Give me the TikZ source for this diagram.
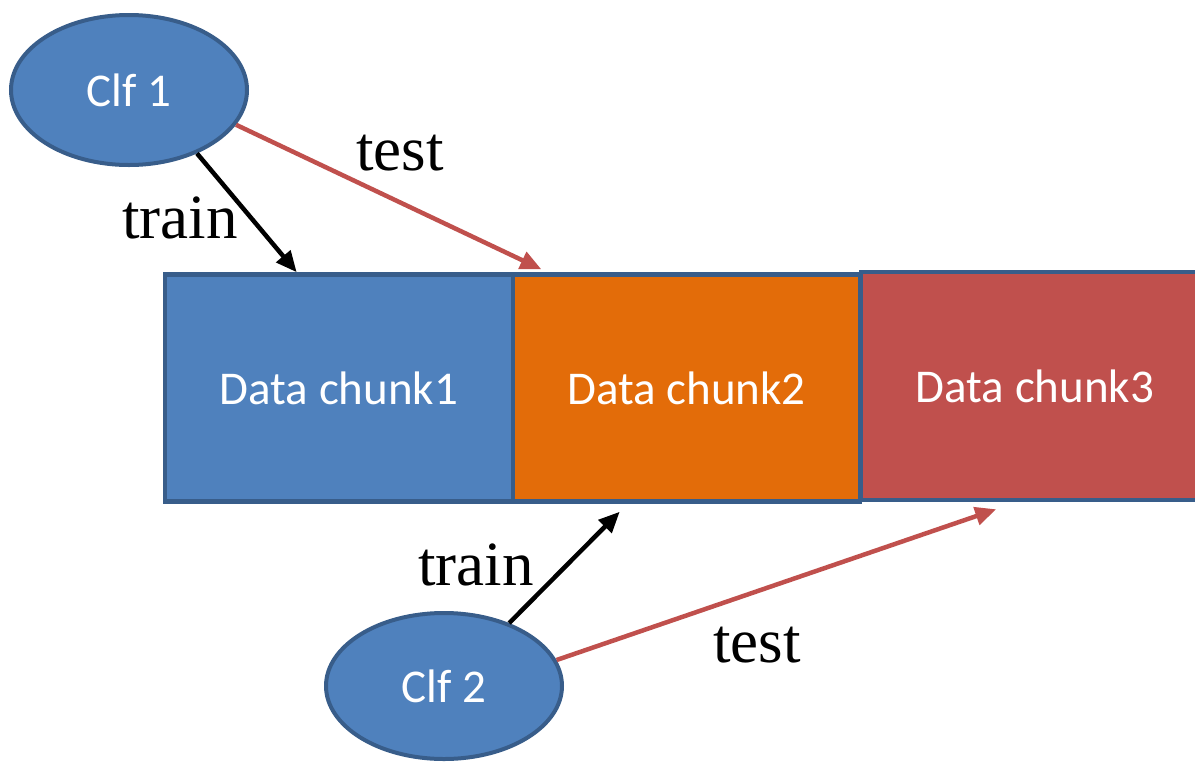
\documentclass[tikz,border=0pt]{standalone}
\usepackage{fontspec}
\setmainfont{Liberation Serif}
\newfontfamily\calib{Carlito}
\usetikzlibrary{arrows.meta,calc,shapes.geometric}
\definecolor{oblue}{HTML}{4F81BD}
\definecolor{edgeblue}{HTML}{385D8A}
\definecolor{oorange}{HTML}{E36C09}
\definecolor{ored}{HTML}{C0504D}
\tikzset{
  clf/.style={ellipse, draw=edgeblue, line width=4pt, fill=oblue, inner sep=0pt,
    minimum width=236pt, minimum height=150pt, text=white,
    font=\calib\fontsize{47}{56}\selectfont},
  chunk/.style={rectangle, draw=edgeblue, line width=4.5pt, inner sep=0pt,
    minimum width=348pt, minimum height=227pt, text=white,
    font=\calib\fontsize{47}{56}\selectfont},
  trainarrow/.style={line width=4.5pt, black, -{Triangle[length=21pt,width=18pt]}},
  testarrow/.style={line width=4.5pt, ored, -{Triangle[length=21pt,width=18pt]}},
  lbl/.style={anchor=base, inner sep=0pt, font=\fontsize{63}{70}\selectfont}
}
\begin{document}
\begin{tikzpicture}[x=1pt, y=-1pt]
  \useasboundingbox (0,0) rectangle (1195,761);
  \clip (0,0) rectangle (1195,761);

  % data chunks
  \node[chunk, fill=oblue] (c1) at (339,388) {Data chunk1};
  \node[chunk, fill=oorange, minimum width=347pt] (c2) at (686.5,388) {Data chunk2};
  \node[chunk, fill=ored, minimum height=228pt] (c3) at (1035,386) {Data chunk3};

  % classifiers
  \node[clf] (clf1) at (129,90) {Clf 1};
  \node[clf, minimum height=146pt] (clf2) at (444,686) {Clf 2};

  % arrow targets along the chunk edges
  \coordinate (t1) at ($(c1.north west)!0.38!(c1.north east)+(0,0)$);
  \coordinate (t2) at ($(c2.north west)!0.087!(c2.north east)+(0,-3)$);
  \coordinate (t3) at ($(c2.south west)!0.31!(c2.south east)+(0,8)$);
  \coordinate (t4) at ($(c3.south west)!0.39!(c3.south east)+(0,7)$);

  % connectors
  \draw[trainarrow] (clf1.-43) -- (t1);
  \draw[testarrow] (clf1.-18) -- (t2);
  \draw[trainarrow] (clf2.44) -- (t3);
  \draw[testarrow] (clf2.13) -- (t4);

  % labels
  \node[lbl] (l1) at (400,170) {test};
  \node[lbl] (l2) at (180,238) {train};
  \node[lbl] (l3) at (476,585) {train};
  \node[lbl] (l4) at (757,662) {test};
\end{tikzpicture}
\end{document}
